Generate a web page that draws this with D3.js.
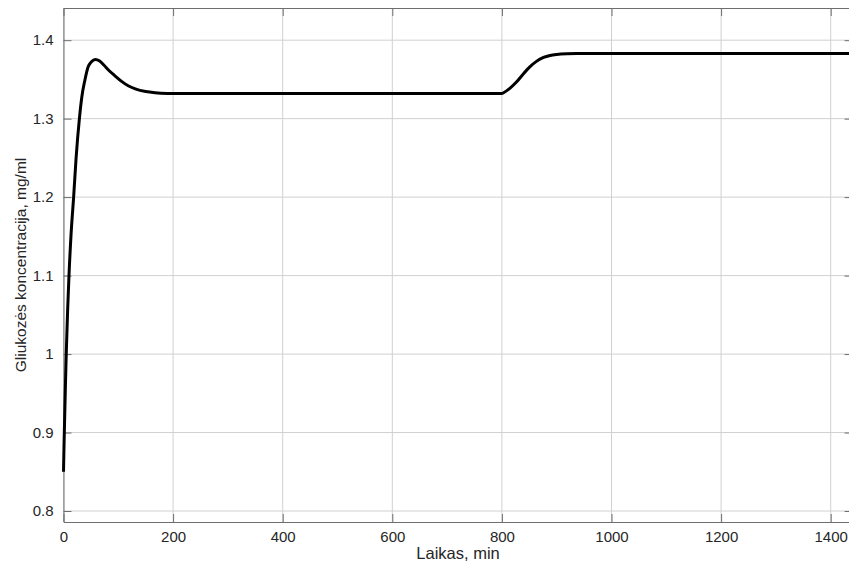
<!DOCTYPE html>
<html>
<head>
<meta charset="utf-8">
<script src="https://cdn.jsdelivr.net/npm/d3@7"></script>
<style>
  body { margin: 0; background: #fff; }
  text { font-family: "Liberation Sans", Arial, Helvetica, sans-serif; }
</style>
</head>
<body>
<div id="chart"></div>
<script>
// time (min) and glucose concentration (mg/ml)
var timeMin = [0, 1, 2, 3.5, 5, 7.5, 10, 14, 18.5, 23, 29, 33.5, 39, 45, 51, 58, 66, 74, 82,
  94, 106, 118, 131, 150, 167, 190, 220, 300, 500, 700, 800, 803, 815, 827, 839, 851, 863,
  876, 888, 900, 918, 937, 1000, 1200, 1440];
var glucose = [0.85, 0.885, 0.915, 0.96, 1.0, 1.055, 1.1, 1.155, 1.2, 1.25, 1.3, 1.328, 1.349,
  1.366, 1.3726, 1.3755, 1.3735, 1.368, 1.362, 1.3545, 1.3475, 1.342, 1.338, 1.3345, 1.333,
  1.3322, 1.332, 1.332, 1.332, 1.332, 1.332, 1.333, 1.339, 1.347, 1.357, 1.366, 1.373,
  1.378, 1.3805, 1.3818, 1.3827, 1.383, 1.383, 1.383, 1.383];

var xTicks = [0, 200, 400, 600, 800, 1000, 1200, 1400];
var yTicks = [0.8, 0.9, 1, 1.1, 1.2, 1.3, 1.4];

var xLabel = "Laikas, min";
var yLabel = "Gliukozės koncentracija, mg/ml";

//setting dimensions and margins
var W = 849, H = 564;
var margin = {top: 8, left: 63.5, bottom: 42};
var plotW = 1440 * 0.548, plotH = H - margin.top - margin.bottom;

var svg = d3.select("#chart").append("svg")
  .attr("width", W).attr("height", H);

var g = svg.append("g")
  .attr("transform", "translate(" + margin.left + "," + margin.top + ")");

var x = d3.scaleLinear().domain([0, 1440]).range([0, plotW]);
var y = d3.scaleLinear().domain([0.786, 1.441]).range([plotH, 0]);

//grid lines
g.selectAll(".vgrid").data(xTicks).enter().append("line")
  .attr("x1", d => x(d)).attr("x2", d => x(d))
  .attr("y1", 0).attr("y2", plotH)
  .attr("stroke", "#d0d0d0").attr("stroke-width", 1);
g.selectAll(".hgrid").data(yTicks).enter().append("line")
  .attr("x1", 0).attr("x2", plotW)
  .attr("y1", d => y(d)).attr("y2", d => y(d))
  .attr("stroke", "#d0d0d0").attr("stroke-width", 1);

//axes (ticks inward, matlab style)
var tk = 8;
var fmt = d3.format("");
var xAxis = g.append("g").attr("transform", "translate(0," + plotH + ")")
  .call(d3.axisBottom(x).tickValues(xTicks).tickFormat(fmt).tickSizeInner(-tk).tickSizeOuter(0).tickPadding(9.5));
var yAxis = g.append("g")
  .call(d3.axisLeft(y).tickValues(yTicks).tickFormat(fmt).tickSizeInner(-tk).tickSizeOuter(0).tickPadding(10));
var xTop = g.append("g")
  .call(d3.axisTop(x).tickValues(xTicks).tickSizeInner(-tk).tickSizeOuter(0).tickFormat(""));
var yRight = g.append("g").attr("transform", "translate(" + plotW + ",0)")
  .call(d3.axisRight(y).tickValues(yTicks).tickSizeInner(-tk).tickSizeOuter(0).tickFormat(""));

[xAxis, yAxis, xTop, yRight].forEach(function(a) {
  a.selectAll(".domain").attr("stroke", "#6e6e6e");
  a.selectAll(".tick line").attr("stroke", "#6e6e6e");
  a.selectAll("text").attr("fill", "#262626").style("font-size", "15px")
    .style("font-family", "'Liberation Sans', Arial, sans-serif");
});

//curve
g.append("path")
  .datum(timeMin.map((t, i) => [t, glucose[i]]))
  .attr("fill", "none")
  .attr("stroke", "#000")
  .attr("stroke-width", 3)
  .attr("stroke-linejoin", "round")
  .attr("d", d3.line().x(d => x(d[0])).y(d => y(d[1])).curve(d3.curveMonotoneX));

//axis labels
svg.append("text")
  .attr("x", margin.left + plotW / 2).attr("y", 559)
  .attr("text-anchor", "middle")
  .style("font-size", "16.5px").attr("fill", "#262626")
  .text(xLabel);

svg.append("text")
  .attr("transform", "translate(26," + (margin.top + plotH / 2) + ") rotate(-90)")
  .attr("text-anchor", "middle")
  .style("font-size", "15.5px").attr("fill", "#262626")
  .text(yLabel);
</script>
</body>
</html>
